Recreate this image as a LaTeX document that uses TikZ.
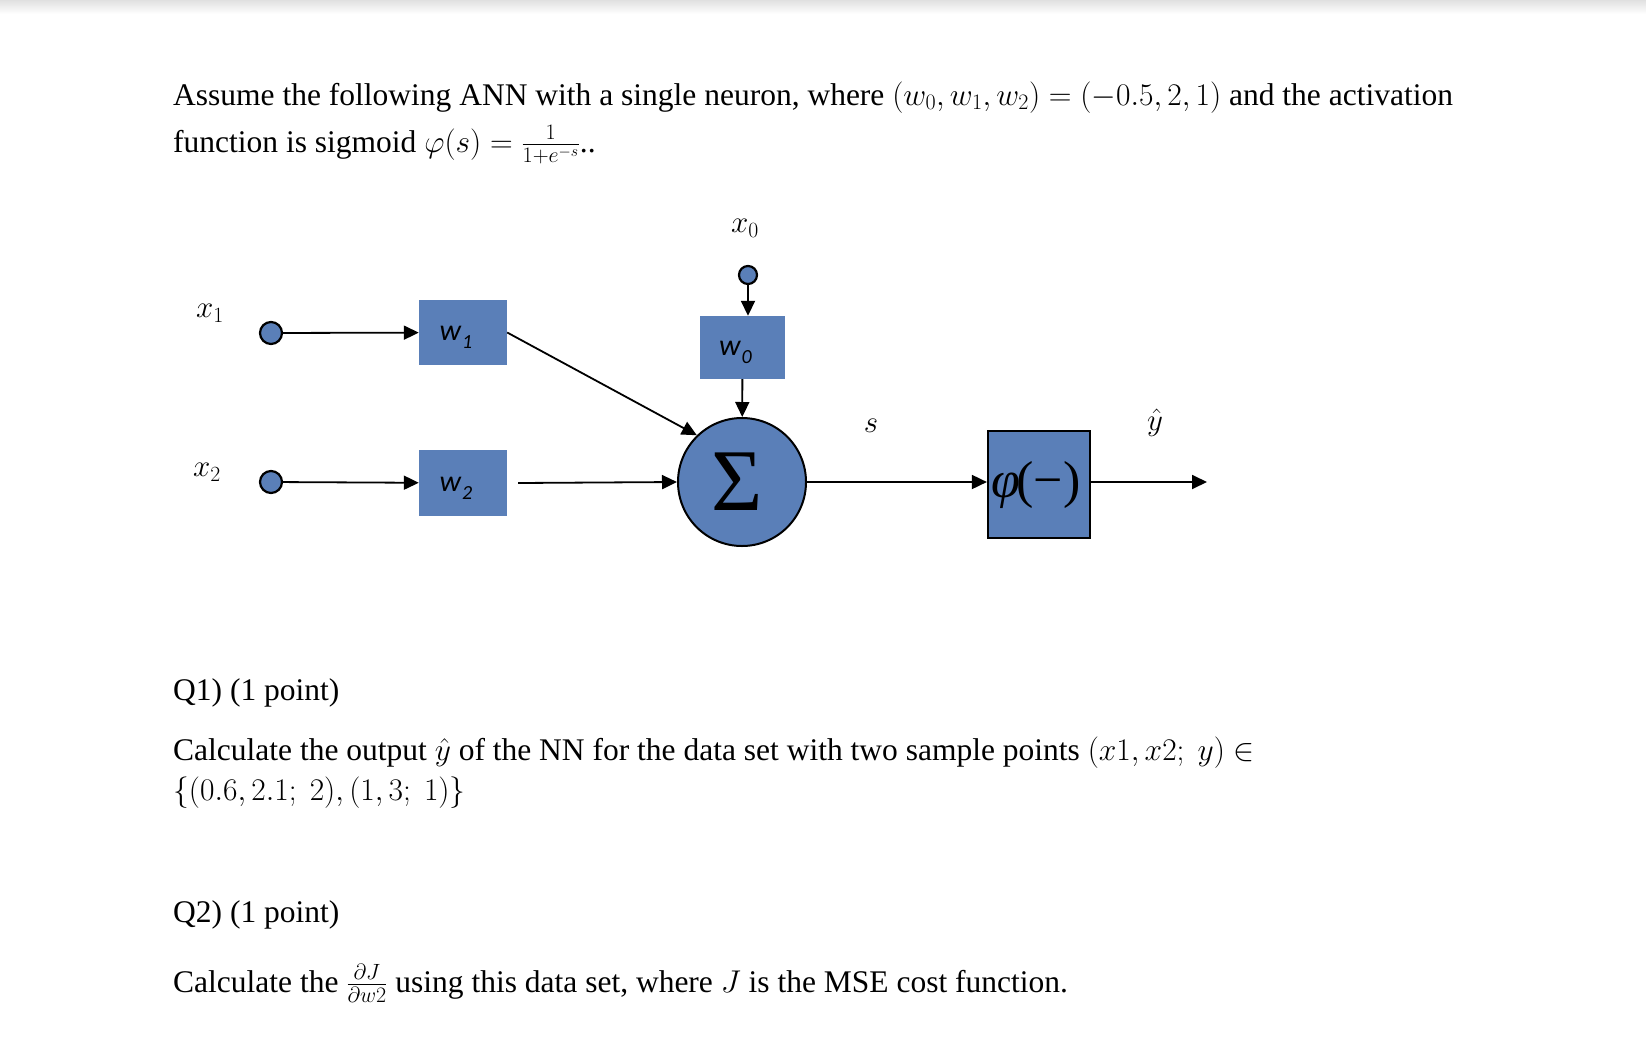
\documentclass[tikz,border=0pt]{standalone}
\usepackage{fix-cm}
\usepackage{fontspec}
\setmainfont{Liberation Serif}
\newfontfamily\calibri{Carlito}
\usetikzlibrary{arrows.meta}
\definecolor{nblue}{HTML}{5A7FB8}
\newcommand{\wlab}[1]{{\calibri\itshape\fontsize{30}{30}\selectfont w\kern1pt\raisebox{-8pt}{\fontsize{20}{20}\selectfont #1}}}
\begin{document}
\begin{tikzpicture}[x=1pt,y=-1pt,
  wbox/.style={fill=nblue, inner sep=0pt, minimum width=88pt, minimum height=65pt},
  dot/.style={circle, draw=black, line width=2.2pt, fill=nblue, inner sep=0pt, minimum size=#1},
  arr/.style={line width=1.8pt, -{Triangle[length=15pt,width=14pt]}},
  lbl/.style={font=\fontsize{31}{32}\selectfont, inner sep=0pt},
  txt/.style={anchor=base west, inner sep=0pt, font=\fontsize{31.5}{38}\selectfont}]
\useasboundingbox (0,0) rectangle (1646,1036);
\fill[white] (0,0) rectangle (1646,1036);
\shade[top color=black!12, bottom color=white] (0,0) rectangle (1646,14);

% text
\node[txt] (t1) at (173,105) {Assume the following ANN with a single neuron, where $(w_0, w_1, w_2) = (-0.5, 2, 1)$ and the activation};
\node[txt] (t2) at (173,152) {function is sigmoid $\varphi(s) = \frac{1}{1+e^{-s}}$..};

% diagram
\node[dot=22pt] (c1) at (271,333) {};
\node[dot=22pt] (c2) at (271,482) {};
\node[dot=18pt] (c0) at (748,275) {};
\node[wbox] (w1) at (463,332.5) {};
\node[wbox, minimum height=66pt] (w2) at (463,483) {};
\node[wbox, minimum width=85pt, minimum height=63pt] (w0) at (742.5,347.5) {};
\node[inner sep=0pt] (w1l) at ([xshift=-7pt,yshift=-5pt]w1.center) {\wlab{1}};
\node[inner sep=0pt] (w2l) at ([xshift=-7pt,yshift=-5pt]w2.center) {\wlab{2}};
\node[inner sep=0pt] (w0l) at ([xshift=-7pt,yshift=-5pt]w0.center) {\wlab{0}};
\node[circle, draw=black, line width=2pt, fill=nblue, inner sep=0pt, minimum size=128pt] (sig) at (742,482) {};
\node[inner sep=0pt, font=\fontsize{88}{88}\selectfont] (sigl) at ([xshift=-5pt]sig.center) {Σ};
\node[draw=black, line width=2.2pt, fill=nblue, inner sep=0pt, minimum width=102pt, minimum height=107pt] (phi) at (1039,484.5) {};
\node[inner sep=0pt, font=\fontsize{52}{52}\selectfont] (phil) at ([xshift=-3pt]phi.center) {\textit{φ}\kern-4pt(−)};
\coordinate (yout) at (1207,482);

\node[lbl] (x1) at (210,313) {$x_1$};
\node[lbl] (x2) at (207,472) {$x_2$};
\node[lbl] (x0) at (745,228) {$x_0$};
\node[lbl] (s) at (871,426) {$s$};
\node[lbl] (yh) at (1155,423) {$\hat{y}$};

\draw[arr] (c1) -- (w1);
\draw[arr] (c2) -- (w2);
\draw[arr] (c0) -- (c0 |- w0.north);
\draw[arr] (w0) -- (sig);
\draw[arr] (w1.east) -- (sig.134);
\draw[arr] ([xshift=11pt]w2.east) -- (sig.west);
\draw[arr] (sig.east) -- (sig.east -| phi.west);
\draw[arr] (sig.east -| phi.east) -- (yout);

% questions
\node[txt] (q1) at (173,700) {Q1) (1 point)};
\node[txt] (q1a) at (173,760) {Calculate the output $\hat{y}$ of the NN for the data set with two sample points $(x1, x2;\ y) \in$};
\node[txt] (q1b) at (173,800) {$\{(0.6, 2.1;\ 2), (1, 3;\ 1)\}$};
\node[txt] (q2) at (173,922) {Q2) (1 point)};
\node[txt] (q2a) at (173,992) {Calculate the $\frac{\partial J}{\partial w2}$ using this data set, where $J$ is the MSE cost function.};
\end{tikzpicture}
\end{document}
